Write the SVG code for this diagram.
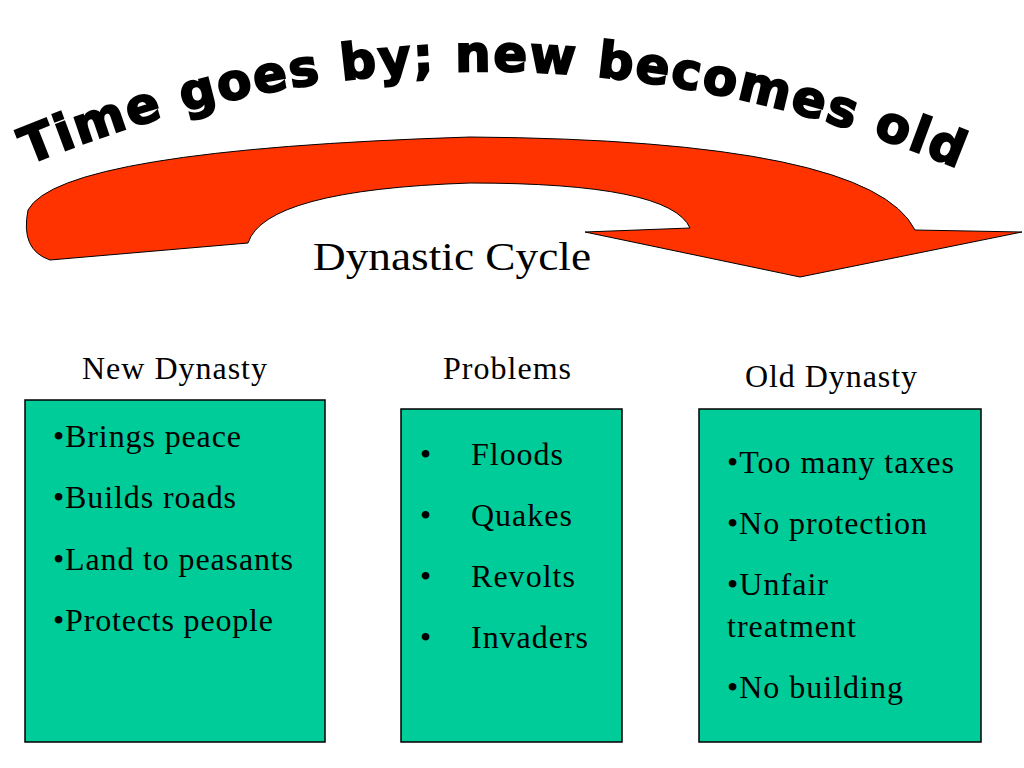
<svg xmlns="http://www.w3.org/2000/svg" width="1024" height="768" viewBox="0 0 1024 768">
<style>
.t{font-family:"Liberation Serif",serif;font-size:32px;fill:#000}
.box{fill:#00CC99;stroke:#000;stroke-width:1.5}
.arc{font-family:"DejaVu Sans",sans-serif;font-weight:bold;font-size:50px;fill:#000;stroke:#000;stroke-width:2;letter-spacing:2px}
</style>
<defs><path id="tp" d="M 28 165 Q 490 -25 962 170"/></defs>
<rect width="1024" height="768" fill="#fff"/>
<g id="arrow">
<path d="M 50 260 Q 20 250 28 210 Q 60 150 470 137 Q 870 140 915 230 L 1022 232 L 800 277 L 585 232 L 690 228 Q 670 183 470 183 Q 265 190 248 243 Z" fill="#FF3300" stroke="#000" stroke-width="1"/>
</g>
<g id="title"><text class="arc"><textPath href="#tp">Time goes by; new becomes old</textPath></text></g>
<text class="t" x="313" y="270" style="font-size:40px" textLength="278" lengthAdjust="spacingAndGlyphs">Dynastic Cycle</text>
<g id="n1">
<text class="t" x="82" y="379" textLength="185">New Dynasty</text>
<rect class="box" x="25" y="400" width="300" height="342"/>
<text class="t" x="53" y="447" textLength="188">•Brings peace</text>
<text class="t" x="53" y="508" textLength="183">•Builds roads</text>
<text class="t" x="53" y="570" textLength="240">•Land to peasants</text>
<text class="t" x="53" y="631" textLength="220">•Protects people</text>
</g>
<g id="n2">
<text class="t" x="443" y="379" textLength="128">Problems</text>
<rect class="box" x="401" y="409" width="221" height="333"/>
<text class="t" x="420" y="465">•</text><text class="t" x="471" y="465" textLength="92">Floods</text>
<text class="t" x="420" y="526">•</text><text class="t" x="471" y="526" textLength="101">Quakes</text>
<text class="t" x="420" y="587">•</text><text class="t" x="471" y="587" textLength="104">Revolts</text>
<text class="t" x="420" y="648">•</text><text class="t" x="471" y="648" textLength="117">Invaders</text>
</g>
<g id="n3">
<text class="t" x="745" y="387" textLength="172">Old Dynasty</text>
<rect class="box" x="699" y="409" width="282" height="333"/>
<text class="t" x="727" y="473" textLength="227">•Too many taxes</text>
<text class="t" x="727" y="534" textLength="200">•No protection</text>
<text class="t" x="727" y="595" textLength="101">•Unfair</text>
<text class="t" x="727" y="637" textLength="129">treatment</text>
<text class="t" x="727" y="698" textLength="176">•No building</text>
</g>
<g id="connectors"/>
</svg>
